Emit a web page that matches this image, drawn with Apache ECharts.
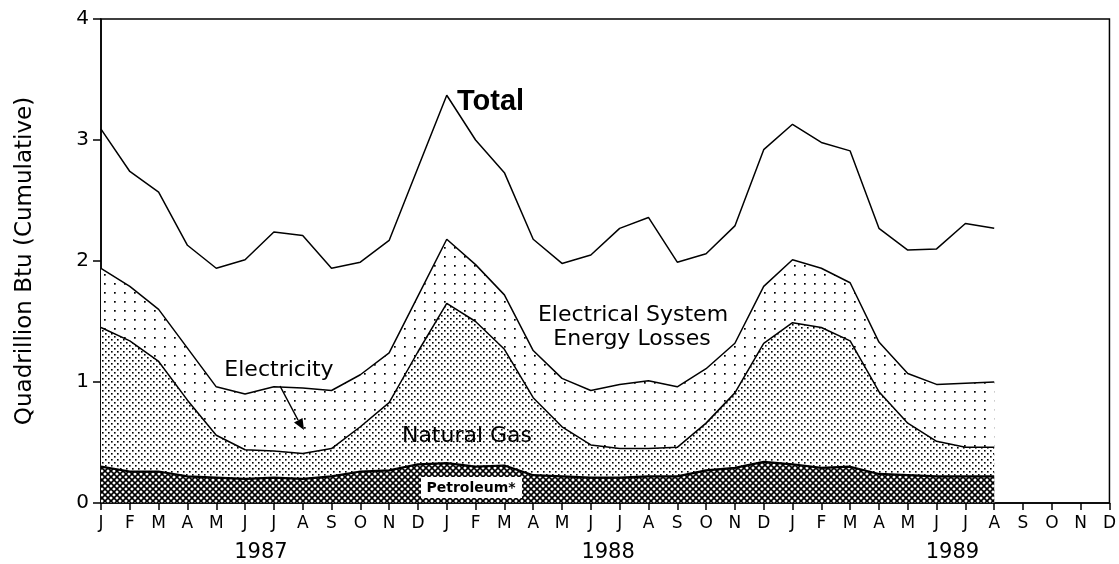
<!DOCTYPE html>
<html>
<head>
<meta charset="utf-8">
<script src="https://cdn.jsdelivr.net/npm/echarts@6/dist/echarts.min.js"></script>
<style>
html, body { margin: 0; padding: 0; background: #fff; }
#chart { width: 1119px; height: 564px; }
</style>
</head>
<body>
<div id="chart"></div>
<script>
// months Jan 1987 .. Dec 1989, data runs to Aug 1989
var months = ['J','F','M','A','M','J','J','A','S','O','N','D',
              'J','F','M','A','M','J','J','A','S','O','N','D',
              'J','F','M','A','M','J','J','A','S','O','N','D'];
var years = ['1987', '1988', '1989'];
var yearPos = [5.55, 17.6, 29.55];

// cumulative values, quadrillion Btu
var total = [3.09, 2.74, 2.57, 2.13, 1.94, 2.01, 2.24, 2.21, 1.94, 1.99, 2.17, 2.77,
             3.37, 3.00, 2.73, 2.18, 1.98, 2.05, 2.27, 2.36, 1.99, 2.06, 2.29, 2.92,
             3.13, 2.98, 2.91, 2.27, 2.09, 2.10, 2.31, 2.27];
var electricity = [1.94, 1.79, 1.60, 1.28, 0.96, 0.90, 0.96, 0.95, 0.93, 1.06, 1.24, 1.71,
                   2.18, 1.97, 1.72, 1.26, 1.03, 0.93, 0.98, 1.01, 0.96, 1.11, 1.32, 1.79,
                   2.01, 1.94, 1.82, 1.33, 1.07, 0.98, 0.99, 1.00];
var naturalGas = [1.45, 1.34, 1.17, 0.85, 0.56, 0.44, 0.43, 0.41, 0.45, 0.63, 0.83, 1.25,
                  1.65, 1.50, 1.27, 0.87, 0.63, 0.48, 0.45, 0.45, 0.46, 0.66, 0.91, 1.32,
                  1.49, 1.45, 1.34, 0.92, 0.66, 0.51, 0.46, 0.46];
var petroleum = [0.30, 0.26, 0.26, 0.22, 0.21, 0.20, 0.21, 0.20, 0.22, 0.26, 0.27, 0.32,
                 0.33, 0.30, 0.31, 0.23, 0.22, 0.21, 0.21, 0.22, 0.22, 0.27, 0.29, 0.34,
                 0.32, 0.29, 0.30, 0.24, 0.23, 0.22, 0.22, 0.22];

// little canvas tiles for the print-style fills
function pattern(w, h, draw) {
  var c = document.createElement('canvas');
  c.width = w; c.height = h;
  var ctx = c.getContext('2d');
  ctx.fillStyle = '#fff';
  ctx.fillRect(0, 0, w, h);
  ctx.fillStyle = '#000';
  ctx.strokeStyle = '#000';
  draw(ctx);
  return { image: c, repeat: 'repeat' };
}
var sparseDots = pattern(10, 9, function (ctx) { ctx.fillRect(4, 4, 1.7, 1.7); });
var denseDots = pattern(6, 6, function (ctx) {
  ctx.fillRect(0, 0, 1.6, 1.6);
  ctx.fillRect(3, 3, 1.6, 1.6);
});
var hatch = pattern(6, 6, function (ctx) {
  ctx.lineWidth = 1.6;
  ctx.beginPath();
  ctx.moveTo(-1, -1); ctx.lineTo(7, 7);
  ctx.moveTo(7, -1); ctx.lineTo(-1, 7);
  ctx.stroke();
});

var font = 'DejaVu Sans';
var chart = echarts.init(document.getElementById('chart'));

function layer(name, data, fill, width) {
  var s = {
    name: name,
    type: 'line',
    data: data,
    symbol: 'none',
    animation: false,
    lineStyle: { color: '#000', width: width }
  };
  if (fill) s.areaStyle = { color: fill, opacity: 1 };
  return s;
}

chart.setOption({
  backgroundColor: '#fff',
  animation: false,
  grid: { left: 101, right: 8, top: 19, bottom: 61, show: true, borderColor: '#000', borderWidth: 1.5 },
  xAxis: {
    type: 'category',
    data: months,
    boundaryGap: false,
    axisLine: { lineStyle: { color: '#000', width: 1.5 } },
    axisTick: { show: true, interval: 0, length: 7, lineStyle: { color: '#000', width: 1.5 } },
    axisLabel: { interval: 0, color: '#000', fontFamily: font, fontSize: 17, margin: 12 },
    splitLine: { show: false }
  },
  yAxis: {
    type: 'value',
    min: 0, max: 4, interval: 1,
    name: 'Quadrillion Btu (Cumulative)',
    nameLocation: 'middle',
    nameGap: 64,
    nameRotate: 90,
    nameTextStyle: { color: '#000', fontFamily: font, fontSize: 23 },
    axisLine: { show: true, lineStyle: { color: '#000', width: 1.5 } },
    axisTick: { show: true, length: 8, lineStyle: { color: '#000', width: 1.5 } },
    axisLabel: { color: '#000', fontFamily: font, fontSize: 20, margin: 12 },
    splitLine: { show: false }
  },
  series: [
    layer('Total', total, null, 1.5),
    layer('Electricity', electricity, sparseDots, 1.5),
    layer('Natural Gas', naturalGas, denseDots, 1.5),
    layer('Petroleum', petroleum, hatch, 2.2)
  ]
});

// labels and years placed after layout
var graphics = [];
function text(x, y, str, size, opts) {
  var st = { text: str, x: x, y: y, fill: '#000', fontFamily: font, fontSize: size,
             textAlign: 'left', textVerticalAlign: 'middle' };
  for (var k in opts) st[k] = opts[k];
  graphics.push({ type: 'text', z: 100, style: st });
}
years.forEach(function (yr, i) {
  var p = yearPos[i], i0 = Math.floor(p);
  var a = chart.convertToPixel({ xAxisIndex: 0 }, i0);
  var b = chart.convertToPixel({ xAxisIndex: 0 }, i0 + 1);
  text(a + (p - i0) * (b - a), 553, yr, 21, { textAlign: 'center' });
});
text(457, 102, 'Total', 29, { fontFamily: 'Liberation Sans', fontWeight: 'bold' });
text(633, 315, 'Electrical System', 22, { textAlign: 'center' });
text(632, 339, 'Energy Losses', 22, { textAlign: 'center' });
text(279, 370, 'Electricity', 22, { textAlign: 'center' });
text(467, 436, 'Natural Gas', 22, { textAlign: 'center' });
graphics.push({ type: 'rect', z: 99, shape: { x: 421, y: 477, width: 101, height: 21 },
                style: { fill: '#fff' } });
text(471, 488, 'Petroleum*', 14, { textAlign: 'center', fontWeight: 'bold' });
graphics.push({ type: 'line', z: 100, shape: { x1: 280, y1: 386, x2: 298, y2: 420 },
                style: { stroke: '#000', lineWidth: 1.5 } });
graphics.push({ type: 'polygon', z: 100, shape: { points: [[304, 430], [302.5, 418], [294, 422.5]] },
                style: { fill: '#000' } });
chart.setOption({ graphic: graphics });
</script>
</body>
</html>
